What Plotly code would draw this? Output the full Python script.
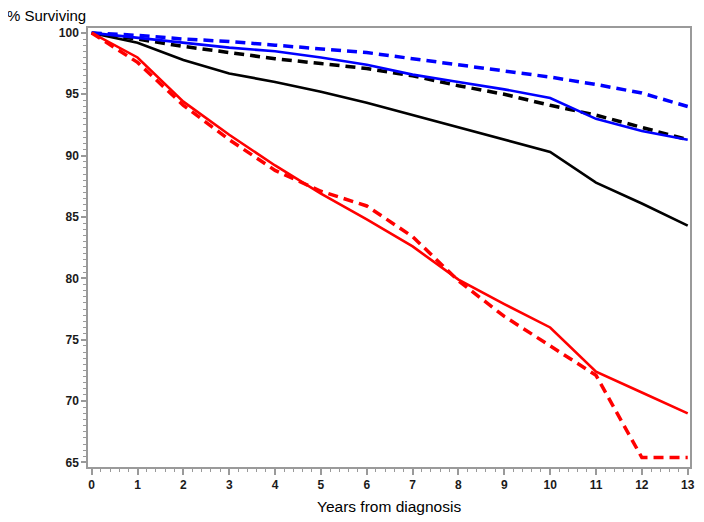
import plotly.graph_objects as go

years = list(range(0, 14))

black_solid = [100, 99.2, 97.8, 96.7, 96.0, 95.2, 94.3, 93.3, 92.3, 91.3, 90.3, 87.8, 86.1, 84.3]
black_dashed = [100, 99.5, 98.9, 98.4, 97.9, 97.5, 97.1, 96.5, 95.7, 95.0, 94.1, 93.3, 92.3, 91.3]
blue_solid = [100, 99.6, 99.2, 98.8, 98.5, 98.0, 97.4, 96.6, 96.0, 95.4, 94.7, 93.0, 92.0, 91.3]
blue_dashed = [100, 99.8, 99.5, 99.3, 99.0, 98.7, 98.4, 97.9, 97.4, 96.9, 96.4, 95.8, 95.1, 94.0]
red_solid = [100, 98.0, 94.4, 91.7, 89.2, 86.9, 84.8, 82.6, 79.9, 77.9, 76.0, 72.4, 70.7, 69.0]
red_dashed = [100, 97.6, 94.1, 91.3, 88.8, 87.1, 85.9, 83.4, 79.8, 76.9, 74.5, 72.1, 65.4, 65.4]

x_ticks = list(range(0, 14))
y_ticks = [65, 70, 75, 80, 85, 90, 95, 100]

series = [
    (black_solid, "#000000", "solid", 2.6),
    (black_dashed, "#000000", "10px,6px", 3.5),
    (blue_solid, "#0000FF", "solid", 2.6),
    (blue_dashed, "#0000FF", "10px,6px", 3.5),
    (red_solid, "#FF0000", "solid", 2.6),
    (red_dashed, "#FF0000", "10px,6px", 3.5),
]

fig = go.Figure()
for vals, color, dash, w in series:
    fig.add_trace(go.Scatter(x=years, y=vals, mode="lines",
                             line=dict(color=color, dash=dash, width=w),
                             showlegend=False, hoverinfo="skip"))

FONT = "Liberation Sans, Arial, sans-serif"
tickfont = dict(family=FONT, size=12, color="#1a1a1a", weight="bold")

# page body has an 8px margin, so the figure is offset by 8px
fig.update_layout(
    width=696, height=514,
    margin=dict(l=80, r=9, t=20, b=55),
    paper_bgcolor="white", plot_bgcolor="white",
    font=dict(family=FONT, color="#000000"),
    xaxis=dict(range=[-0.08, 13.05], tickvals=x_ticks, ticktext=[str(v) for v in x_ticks],
               showgrid=False, zeroline=False, showline=True, linecolor="#9a9a9a", linewidth=1.5,
               mirror=True, ticks="outside", ticklen=6, tickcolor="#9a9a9a", tickwidth=1.5,
               tickfont=tickfont,
               minor=dict(dtick=0.2, ticks="outside", ticklen=3, tickcolor="#9a9a9a", tickwidth=1.2, showgrid=False)),
    yaxis=dict(range=[64.63, 100.4], tickvals=y_ticks, ticktext=[str(v) for v in y_ticks],
               showgrid=False, zeroline=False, showline=True, linecolor="#9a9a9a", linewidth=1.5,
               mirror=True, ticks="outside", ticklen=5, tickcolor="#9a9a9a", tickwidth=1.5,
               tickfont=tickfont,
               minor=dict(dtick=0.5, ticks="outside", ticklen=3, tickcolor="#9a9a9a", tickwidth=1.2, showgrid=False)),
    annotations=[
        dict(text="% Surviving", xref="paper", yref="paper", x=0, y=1, xanchor="right", yanchor="middle",
             xshift=0, yshift=13, showarrow=False,
             font=dict(family=FONT, size=15, color="#000000")),
        dict(text="Years from diagnosis", xref="paper", yref="paper", x=0.5, y=0, xanchor="center", yanchor="middle",
             yshift=-39, showarrow=False,
             font=dict(family=FONT, size=15.5, color="#000000")),
    ],
)

fig.write_html("out.html")
